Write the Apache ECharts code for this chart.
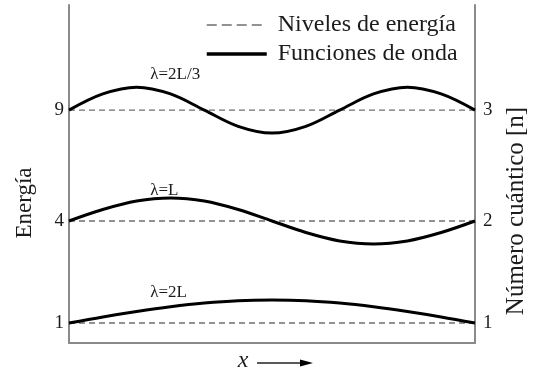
<!DOCTYPE html>
<html>
<head>
<meta charset="utf-8">
<script src="https://cdn.jsdelivr.net/npm/echarts@6/dist/echarts.min.js"></script>
<style>
  html, body { margin: 0; padding: 0; background: #fff; }
  #chart { width: 534px; height: 377px; }
</style>
</head>
<body>
<div id="chart"></div>
<script>
// Particle in a box: energy levels and standing waves for n = 1, 2, 3.
const quantumNumbers = [1, 2, 3];
const energies = [1, 4, 9];
const wavelengthLabels = ['λ=2L', 'λ=L', 'λ=2L/3'];
// Schematic height at which each level is drawn (vertical axis runs 0–100)
const levelHeight = [5.9, 36.1, 68.9];
// Position along the box, in twelfths of L
const xSteps = [0, 1, 2, 3, 4, 5, 6, 7, 8, 9, 10, 11, 12];
// Wave displacement about each level
const psi1 = [0, 1.8, 3.4, 4.8, 5.9, 6.6, 6.8, 6.6, 5.9, 4.8, 3.4, 1.8, 0];
const psi2 = [0, 3.4, 5.9, 6.8, 5.9, 3.4, 0, -3.4, -5.9, -6.8, -5.9, -3.4, 0];
const psi3 = [0, 4.8, 6.8, 4.8, 0, -4.8, -6.8, -4.8, 0, 4.8, 6.8, 4.8, 0];
const waves = [psi1, psi2, psi3];

const FONT = "'Liberation Serif', 'Times New Roman', serif";
const INK = '#1c1c1c';
const AXIS = '#8a8a8a';

function levelIndex(v) {
  return levelHeight.findIndex(h => Math.abs(h - v) < 0.01);
}

const series = [];
levelHeight.forEach((h) => {
  series.push({
    name: 'Niveles de energía',
    type: 'line',
    symbol: 'none',
    silent: true,
    z: 2,
    itemStyle: { color: '#6f6f6f' },
    lineStyle: { color: '#6f6f6f', width: 1.4, type: [6, 4] },
    data: [[xSteps[0], h], [xSteps[xSteps.length - 1], h]]
  });
});
const labelOffsets = [8.9, 9.0, 10.4];
waves.forEach((psi, i) => {
  series.push({
    name: 'Funciones de onda',
    type: 'line',
    symbol: 'none',
    smooth: 0.35,
    z: 3,
    itemStyle: { color: '#000' },
    lineStyle: { color: '#000', width: 3 },
    data: xSteps.map((x, k) => [x, levelHeight[i] + psi[k]]),
    markPoint: {
      symbol: 'circle',
      symbolSize: 0,
      silent: true,
      data: [{
        coord: [2.4, levelHeight[i] + labelOffsets[i]],
        label: {
          show: true,
          formatter: wavelengthLabels[i],
          position: 'right',
          distance: 0,
          fontFamily: FONT,
          fontSize: 17,
          color: INK
        }
      }]
    }
  });
});

const chart = echarts.init(document.getElementById('chart'), null, { renderer: 'canvas' });
chart.setOption({
  animation: false,
  backgroundColor: '#fff',
  textStyle: { fontFamily: FONT, color: INK },
  grid: { left: 69, right: 59, top: 5, bottom: 34 },
  legend: {
    orient: 'vertical',
    left: 200,
    top: 8,
    itemWidth: 60,
    itemHeight: 14,
    itemGap: 5,
    formatter: name => '\u00a0' + name,
    textStyle: { fontFamily: FONT, fontSize: 24, color: INK },
    data: [
      { name: 'Niveles de energía', itemStyle: { opacity: 0 }, lineStyle: { color: '#6f6f6f', width: 1.4, type: [10, 5] } },
      { name: 'Funciones de onda', itemStyle: { opacity: 0 }, lineStyle: { color: '#000', width: 3.5 } }
    ]
  },
  xAxis: {
    type: 'value',
    min: 0,
    max: 12,
    axisLine: { show: true, lineStyle: { color: AXIS, width: 2 } },
    axisTick: { show: false },
    axisLabel: { show: false },
    splitLine: { show: false }
  },
  yAxis: [
    {
      type: 'value',
      min: 0,
      max: 100,
      position: 'left',
      axisLine: { show: true, lineStyle: { color: AXIS, width: 2 } },
      axisTick: { show: false },
      splitLine: { show: false },
      axisLabel: {
        customValues: levelHeight,
        margin: 5,
        fontFamily: FONT,
        fontSize: 19,
        color: INK,
        formatter: v => { const i = levelIndex(v); return i < 0 ? '' : String(energies[i]); }
      }
    },
    {
      type: 'value',
      min: 0,
      max: 100,
      position: 'right',
      axisLine: { show: true, lineStyle: { color: AXIS, width: 2 } },
      axisTick: { show: false },
      splitLine: { show: false },
      axisLabel: {
        customValues: levelHeight,
        margin: 8,
        fontFamily: FONT,
        fontSize: 19,
        color: INK,
        formatter: v => { const i = levelIndex(v); return i < 0 ? '' : String(quantumNumbers[i]); }
      }
    }
  ],
  graphic: [
    // axis titles
    { type: 'text', x: 25, y: 203, rotation: Math.PI / 2,
      style: { text: 'Energía', fontFamily: FONT, fontSize: 23, fill: INK, align: 'center', verticalAlign: 'middle' } },
    { type: 'text', x: 516, y: 211, rotation: Math.PI / 2,
      style: { text: 'Número cuántico [n]', fontFamily: FONT, fontSize: 25, fill: INK, align: 'center', verticalAlign: 'middle' } },
    // position along the box
    { type: 'text', x: 243, y: 361,
      style: { text: 'x', fontFamily: FONT, fontSize: 24, fontStyle: 'italic', fill: INK, align: 'center', verticalAlign: 'middle' } },
    { type: 'line', shape: { x1: 257, y1: 363, x2: 302, y2: 363 }, style: { stroke: '#222', lineWidth: 1.3 } },
    { type: 'polygon', shape: { points: [[300, 359.5], [313, 363], [300, 366.5]] }, style: { fill: '#000' } }
  ],
  series: series
});
</script>
</body>
</html>
